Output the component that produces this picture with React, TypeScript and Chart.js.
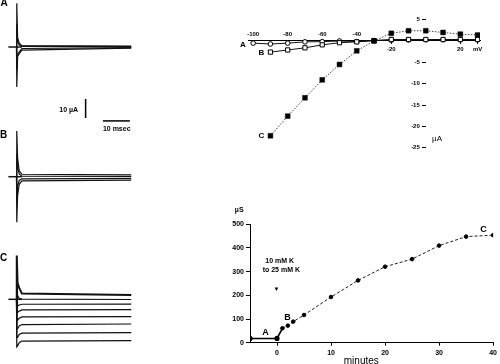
import React, { useEffect, useRef } from 'react';
import { Chart, registerables } from 'chart.js';

Chart.register(...registerables);

const FONT = "'Liberation Sans', Arial, Helvetica, sans-serif";
Chart.defaults.font.family = FONT;
Chart.defaults.color = '#000';

// ---------------- Data ----------------
// Left column: membrane current (µA) vs time after the voltage step (ms)
const traceTimes = [0, 0.1, 0.4, 1.0, 2.0, 42.5];
const holdTimes = [-3, 2];
const holdLevel = [0, 0];

const tracesA = [
  [0, 23, 5, 2, 0.7, 0.5],
  [0, 12, 3, 1, 0.3, 0.2],
  [0, -12, -4, -2.5, -0.8, -0.3],
  [0, -21, -5, -3.5, -1.6, -0.6],
];
const tracesB = [
  [0, 24, 10, 3, 1.3, 1.0],
  [0, 12, 5, 1.5, 0.3, 0.1],
  [0, -12, -5, -2, -1.1, -0.9],
  [0, -24, -10, -4, -2.2, -1.8],
];
const tracesC = [
  [0, 23, 8.5, 6, 3, 2.3],
  [0, 15, 2, 0.5, 0.1, -0.1],
  [0, 8, -3.5, -3, -2.6, -2.5],
  [0, -3, -7, -6.2, -5.6, -5.4],
  [0, -9, -11, -10, -9.3, -9.1],
  [0, -15, -15.5, -14, -13.3, -13],
  [0, -20, -20, -18.5, -17.8, -17.5],
  [0, -25, -24.5, -22.8, -22, -21.8],
];
const scaleBarTime = [32, 42]; // 10 msec
const scaleBarCurrent = [-27.4, -37.4]; // 10 µA

// Top right: current–voltage relations
const ivVoltagesA = [-100, -90, -80, -70, -60, -50, -40, -30, -20, -10, 0, 10, 20, 30];
const ivCurrentA = [-0.5, -0.7, -0.5, -0.2, -0.15, 0, -0.15, 0.1, 0.2, 0.25, 0.3, 0.3, 0.3, 0.3];
const ivVoltagesBC = [-90, -80, -70, -60, -50, -40, -30, -20, -10, 0, 10, 20, 30];
const ivCurrentB = [-2.6, -2.1, -1.6, -0.9, -0.4, -0.2, 0.1, 0.35, 0.35, 0.35, 0.35, 0.35, 0.35];
const ivCurrentC = [-22.2, -17.6, -13.3, -9.1, -5.5, -2.3, 0, 1.8, 2.4, 2.4, 2.0, 1.6, 1.4];
const ivTopTicks = [-100, -80, -60, -40];
const ivBottomTicks = [-20, 20, 30];
const ivBottomTickLabels = ['-20', '20', 'mV'];
const ivYTicks = [5, -5, -10, -15, -20, -25];

// Bottom right: conductance (µS) vs time (minutes)
const baselineMinutes = [-5, 0, 1];
const baselineConductance = [18, 18, 61];
const courseMinutes = [1, 2, 3, 5, 10, 15, 20, 25, 30, 35, 40];
const courseConductance = [61, 72, 89, 117, 193, 263, 321, 353, 410, 448, 454];
const timeXTicks = [0, 10, 20, 30, 40];
const timeYTicks = [0, 100, 200, 300, 400, 500];

// ---------------- Helpers ----------------
type LabelItem = { text: string; x: number; y: number; font: string; align?: CanvasTextAlign };

function textMarks(items: LabelItem[]) {
  return {
    id: 'textMarks',
    afterDatasetsDraw(chart: any) {
      const { ctx, scales } = chart;
      ctx.save();
      ctx.fillStyle = '#000';
      ctx.textBaseline = 'middle';
      for (const it of items) {
        ctx.font = it.font;
        ctx.textAlign = it.align || 'center';
        ctx.fillText(it.text, scales.x.getPixelForValue(it.x), scales.y.getPixelForValue(it.y));
      }
      ctx.restore();
    },
  };
}

const pts = (xs: number[], ys: number[]) => xs.map((x, i) => ({ x, y: ys[i] }));

const baseOptions = {
  responsive: false,
  animation: false as const,
  events: [] as any[],
  plugins: { legend: { display: false }, tooltip: { enabled: false } },
};

const TRACE_PX_PER_MS = 2.7;
const TRACE_PX_PER_UA = 1.9;
const TRACE_ZERO_X = 16.5;

function traceConfig(
  traces: number[][],
  width: number,
  height: number,
  zeroY: number,
  widths: number[],
  extra: any[],
  labels: LabelItem[]
) {
  const xMin = -TRACE_ZERO_X / TRACE_PX_PER_MS;
  const xMax = (width - TRACE_ZERO_X) / TRACE_PX_PER_MS;
  const yMax = zeroY / TRACE_PX_PER_UA;
  const yMin = -(height - zeroY) / TRACE_PX_PER_UA;
  return {
    type: 'line',
    data: {
      datasets: [
        ...traces.map((vals, i) => ({
          data: pts(traceTimes, vals),
          borderColor: '#111',
          borderWidth: widths[i] ?? 1.2,
          pointRadius: 0,
          tension: 0,
        })),
        {
          data: pts(holdTimes, holdLevel),
          borderColor: '#111',
          borderWidth: 1.5,
          pointRadius: 0,
        },
        ...extra,
      ],
    },
    options: {
      ...baseOptions,
      layout: { padding: 0 },
      scales: {
        x: { type: 'linear', display: false, min: xMin, max: xMax },
        y: { type: 'linear', display: false, min: yMin, max: yMax },
      },
    },
    plugins: [textMarks(labels)],
  };
}

function ChartBox(props: { left: number; top: number; width: number; height: number; make: () => any }) {
  const ref = useRef<HTMLCanvasElement>(null);
  useEffect(() => {
    const chart = new Chart(ref.current as HTMLCanvasElement, props.make());
    return () => chart.destroy();
  }, []);
  return (
    <canvas
      ref={ref}
      width={props.width}
      height={props.height}
      style={{ position: 'absolute', left: props.left, top: props.top, width: props.width, height: props.height }}
    />
  );
}

// ---------------- Chart configs ----------------
const makePanelA = () =>
  traceConfig(
    tracesA,
    135,
    136,
    47,
    [1.2, 1.2, 1.2, 1.2],
    [
      {
        data: pts([25.6, 25.6], scaleBarCurrent),
        borderColor: '#000',
        borderWidth: 1.5,
        pointRadius: 0,
      },
      {
        data: pts(scaleBarTime, [-38.9, -38.9]),
        borderColor: '#000',
        borderWidth: 1.5,
        pointRadius: 0,
      },
    ],
    [
      { text: 'A', x: -4.6, y: 22.9, font: `bold 10px ${FONT}` },
      { text: '10 µA', x: 22.8, y: -33.2, font: `bold 7px ${FONT}`, align: 'right' },
      { text: '10 msec', x: 32.0, y: -43.4, font: `bold 7px ${FONT}`, align: 'left' },
    ]
  );

const makePanelB = () =>
  traceConfig(tracesB, 135, 115, 51.7, [1.2, 1.2, 1.2, 1.2], [], [
    { text: 'B', x: -4.8, y: 21.9, font: `bold 10px ${FONT}` },
  ]);

const makePanelC = () =>
  traceConfig(tracesC, 135, 119, 54.3, [2, 1.2, 1.2, 1.2, 1.2, 1.2, 1.2, 1.2], [], [
    { text: 'C', x: -4.8, y: 21.5, font: `bold 10px ${FONT}` },
  ]);

const makeIV = () => ({
  type: 'line',
  data: {
    datasets: [
      {
        label: 'C',
        data: pts(ivVoltagesBC, ivCurrentC),
        borderColor: '#333',
        borderWidth: 0.9,
        borderDash: [1.5, 1.5],
        pointStyle: 'rect',
        pointRadius: 3.4,
        pointBackgroundColor: '#000',
        pointBorderColor: '#000',
        pointBorderWidth: 0.5,
        order: 0,
      },
      {
        label: 'B',
        data: pts(ivVoltagesBC, ivCurrentB),
        borderColor: '#111',
        borderWidth: 1,
        pointStyle: 'rect',
        pointRadius: 3,
        pointBackgroundColor: '#fff',
        pointBorderColor: '#000',
        pointBorderWidth: 1,
        order: 1,
      },
      {
        label: 'A',
        data: pts(ivVoltagesA, ivCurrentA),
        borderColor: '#111',
        borderWidth: 1,
        pointStyle: 'circle',
        pointRadius: 2.3,
        pointBackgroundColor: '#fff',
        pointBorderColor: '#000',
        pointBorderWidth: 1,
        order: 2,
      },
    ],
  },
  options: {
    ...baseOptions,
    layout: { padding: { left: 16, right: 20, top: 10, bottom: 7 } },
    scales: {
      x: {
        type: 'linear',
        position: { y: 0 },
        min: -103,
        max: 31.4,
        afterBuildTicks: (s: any) => {
          s.ticks = ivBottomTicks.map((v) => ({ value: v }));
        },
        ticks: {
          font: { size: 6, weight: 'bold' },
          padding: 1.5,
          autoSkip: false,
          maxRotation: 0,
          callback: (_v: any, i: number) => ivBottomTickLabels[i],
        },
        grid: { drawOnChartArea: false, drawTicks: true, tickLength: 3, color: '#000' },
        border: { display: true, color: '#000', width: 1 },
      },
      x2: {
        type: 'linear',
        axis: 'x',
        position: { y: 0 },
        min: -103,
        max: 31.4,
        afterBuildTicks: (s: any) => {
          s.ticks = ivTopTicks.map((v) => ({ value: v }));
        },
        ticks: { font: { size: 6, weight: 'bold' }, padding: -10.5, autoSkip: false, maxRotation: 0 },
        grid: { display: false, drawTicks: false },
        border: { display: false },
      },
      y: {
        type: 'linear',
        position: { x: 0 },
        min: -26.7,
        max: 7.26,
        afterBuildTicks: (s: any) => {
          s.ticks = ivYTicks.map((v) => ({ value: v }));
        },
        ticks: { font: { size: 6, weight: 'bold' }, autoSkip: false, callback: (v: any) => `${v}\u2003` },
        grid: { drawOnChartArea: false, drawTicks: true, tickLength: 4, color: '#000' },
        border: { display: false },
      },
    },
  },
  plugins: [
    textMarks([
      { text: 'A', x: -105.9, y: -0.9, font: `bold 8px ${FONT}` },
      { text: 'B', x: -95.2, y: -2.8, font: `bold 8px ${FONT}` },
      { text: 'C', x: -95.2, y: -22.2, font: `bold 8px ${FONT}` },
      { text: 'µA', x: 6.5, y: -23, font: `8px ${FONT}` },
    ]),
  ],
});

const makeTime = () => ({
  type: 'line',
  data: {
    datasets: [
      {
        data: pts(baselineMinutes, baselineConductance),
        borderColor: '#000',
        borderWidth: 1.6,
        pointRadius: [1.8, 1.8, 0],
        pointBackgroundColor: '#000',
        pointBorderColor: '#000',
      },
      {
        data: pts(courseMinutes, courseConductance),
        borderColor: '#222',
        borderWidth: 1,
        borderDash: [3, 2],
        pointRadius: 1.8,
        pointBackgroundColor: '#000',
        pointBorderColor: '#000',
      },
    ],
  },
  options: {
    ...baseOptions,
    layout: { padding: { left: 0, top: 29.3, right: 4.3, bottom: 0 } },
    scales: {
      x: {
        type: 'linear',
        position: 'bottom',
        min: -5,
        max: 40,
        afterFit: (s: any) => {
          s.height = 21.3;
        },
        afterBuildTicks: (s: any) => {
          s.ticks = timeXTicks.map((v) => ({ value: v }));
        },
        ticks: { font: { size: 7, weight: 'bold' }, padding: 3, autoSkip: false, maxRotation: 0 },
        grid: { drawOnChartArea: false, tickLength: 3, color: '#000' },
        border: { color: '#000', width: 1 },
      },
      y: {
        type: 'linear',
        position: 'left',
        min: 0,
        max: 500,
        afterFit: (s: any) => {
          s.width = 40;
        },
        afterBuildTicks: (s: any) => {
          s.ticks = timeYTicks.map((v) => ({ value: v }));
        },
        ticks: { font: { size: 7, weight: 'bold' }, padding: 2, autoSkip: false },
        grid: { drawOnChartArea: false, tickLength: 4, color: '#000' },
        border: { color: '#000', width: 1 },
      },
    },
  },
  plugins: [
    textMarks([
      { text: 'µS', x: -7.0, y: 560, font: `bold 7px ${FONT}` },
      { text: '10 mM K', x: 0.5, y: 343, font: `bold 7px ${FONT}` },
      { text: 'to 25 mM K', x: 0.8, y: 307, font: `bold 7px ${FONT}` },
      { text: '▼', x: -0.1, y: 225, font: `6px ${FONT}` },
      { text: 'A', x: -2.15, y: 41, font: `bold 9px ${FONT}` },
      { text: 'B', x: 1.96, y: 108, font: `bold 9px ${FONT}` },
      { text: 'C', x: 38.2, y: 476, font: `bold 9px ${FONT}` },
      { text: 'minutes', x: 15.6, y: -77, font: `10px ${FONT}` },
    ]),
  ],
});

export default function App() {
  return (
    <div style={{ position: 'absolute', left: 0, top: 0, width: 500, height: 364, background: '#fff', overflow: 'hidden' }}>
      <ChartBox left={0} top={0} width={135} height={136} make={makePanelA} />
      <ChartBox left={0} top={125} width={135} height={115} make={makePanelB} />
      <ChartBox left={0} top={245} width={135} height={119} make={makePanelC} />
      <ChartBox left={232} top={0} width={268} height={162} make={makeIV} />
      <ChartBox left={210} top={195} width={290} height={169} make={makeTime} />
    </div>
  );
}
